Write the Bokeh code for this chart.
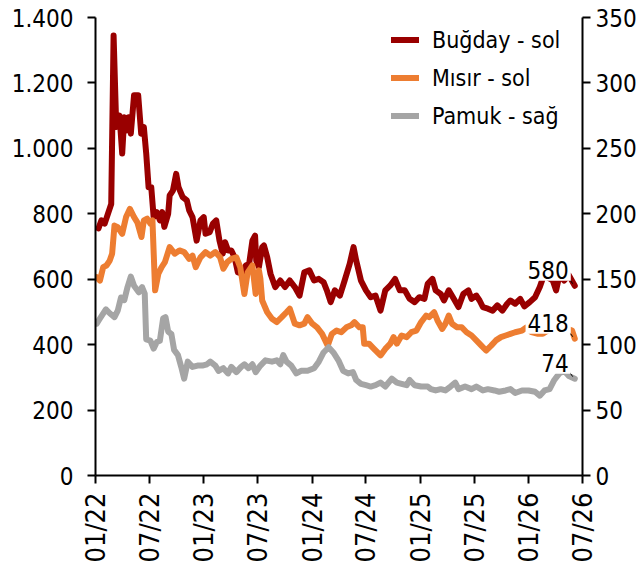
import pandas as pd
from bokeh.plotting import figure
from bokeh.models import (Range1d, LinearAxis, FixedTicker, Label, Legend, LegendItem)
from bokeh.embed import file_html
from bokeh.resources import INLINE

# ---------------- data ----------------
B_DATES = ["2022-01-11","2022-01-21","2022-02-01","2022-02-12","2022-02-23","2022-03-03","2022-03-12","2022-03-23",
           "2022-04-01","2022-04-08","2022-04-16","2022-04-22","2022-04-30","2022-05-11","2022-05-25","2022-06-04",
           "2022-06-13","2022-06-21","2022-06-29","2022-07-08","2022-07-16","2022-07-27","2022-08-06","2022-08-14",
           "2022-08-21","2022-09-03","2022-09-08","2022-09-19","2022-09-30","2022-10-08","2022-10-22","2022-11-05",
           "2022-11-13","2022-11-24","2022-12-08","2022-12-21","2023-01-01","2023-01-07","2023-01-21","2023-02-01",
           "2023-02-12","2023-02-23","2023-03-06","2023-03-14","2023-03-24","2023-04-04","2023-04-15","2023-04-26",
           "2023-05-12","2023-05-23","2023-06-03","2023-06-14","2023-06-23","2023-06-27","2023-07-06","2023-07-17",
           "2023-07-23","2023-08-03","2023-08-14","2023-08-30","2023-09-16","2023-10-02","2023-10-18","2023-11-04",
           "2023-11-20","2023-12-06","2023-12-23","2024-01-08","2024-01-24","2024-02-09","2024-02-20","2024-03-04",
           "2024-03-18","2024-04-04","2024-04-20","2024-05-07","2024-05-20","2024-05-29","2024-06-14","2024-07-01",
           "2024-07-17","2024-08-02","2024-08-19","2024-09-04","2024-09-21","2024-10-07","2024-10-23","2024-11-09",
           "2024-11-25","2024-12-12","2024-12-28","2025-01-14","2025-01-25","2025-02-10","2025-02-21","2025-03-10",
           "2025-03-21","2025-04-06","2025-04-23","2025-05-09","2025-05-25","2025-06-11","2025-06-22","2025-07-08",
           "2025-07-19","2025-07-30","2025-08-16","2025-09-01","2025-09-17","2025-10-04","2025-10-20","2025-10-31",
           "2025-11-16","2025-12-03","2025-12-17","2026-01-04","2026-01-22","2026-02-07","2026-02-22","2026-03-07",
           "2026-03-23","2026-04-03","2026-04-14","2026-04-30","2026-05-16","2026-06-05"]
B_VALUES = [755,780,770,800,830,1345,1065,1100,
            984,1095,1055,1095,1045,1162,1162,1045,
            1065,984,881,881,790,805,780,805,
            760,800,856,871,922,881,851,841,
            810,790,718,780,790,739,744,770,
            780,718,678,713,688,688,667,621,
            617,642,647,718,733,657,637,698,
            703,667,617,576,596,576,596,576,
            550,621,627,596,601,591,566,530,
            566,550,596,647,698,657,596,566,
            545,550,504,566,581,601,566,566,
            540,530,545,540,586,601,566,555,
            535,566,540,515,555,566,540,550,
            535,515,510,504,520,504,525,535,
            525,540,517,530,545,576,615,605,
            596,566,612,596,612,580]

M_DATES = ["2022-01-05","2022-01-16","2022-01-27","2022-02-07","2022-02-18","2022-02-26","2022-03-06","2022-03-17",
           "2022-04-01","2022-04-14","2022-04-27","2022-05-11","2022-05-22","2022-06-05","2022-06-13","2022-06-24",
           "2022-07-05","2022-07-12","2022-07-21","2022-08-01","2022-08-12","2022-08-23","2022-09-08","2022-09-25",
           "2022-10-11","2022-10-27","2022-11-13","2022-11-24","2022-12-05","2022-12-21","2023-01-07","2023-01-23",
           "2023-02-09","2023-02-25","2023-03-08","2023-03-21","2023-04-04","2023-04-21","2023-05-04","2023-05-18",
           "2023-05-29","2023-06-14","2023-06-25","2023-07-06","2023-07-11","2023-07-17","2023-08-03","2023-08-19",
           "2023-09-04","2023-09-21","2023-10-07","2023-10-18","2023-11-04","2023-11-20","2023-12-06","2023-12-17",
           "2024-01-02","2024-01-18","2024-02-04","2024-02-23","2024-03-08","2024-03-24","2024-04-09","2024-04-26",
           "2024-05-12","2024-05-23","2024-06-09","2024-06-20","2024-06-25","2024-07-11","2024-07-28","2024-08-19",
           "2024-09-04","2024-09-21","2024-10-02","2024-10-13","2024-10-29","2024-11-15","2024-12-01","2024-12-18",
           "2025-01-03","2025-01-20","2025-01-30","2025-02-16","2025-02-27","2025-03-15","2025-03-26","2025-04-06",
           "2025-04-17","2025-05-04","2025-05-20","2025-06-05","2025-06-22","2025-07-08","2025-07-25","2025-08-10",
           "2025-08-27","2025-09-12","2025-09-29","2025-10-15","2025-10-31","2025-11-16","2025-12-09","2025-12-25",
           "2026-01-10","2026-02-01","2026-02-17","2026-03-06","2026-03-23","2026-04-08","2026-04-24","2026-05-11",
           "2026-05-27","2026-06-05"]
M_VALUES = [606,596,637,642,657,678,764,759,
            739,790,815,790,774,729,780,785,
            770,780,566,617,637,652,698,678,
            688,683,662,672,637,667,683,672,
            683,667,632,652,662,667,637,555,
            621,642,555,627,601,535,499,479,
            469,484,499,510,464,459,464,484,
            464,453,433,397,433,443,438,453,
            459,469,453,453,403,403,387,367,
            387,403,423,403,428,423,438,443,
            469,489,484,499,474,448,464,489,
            464,453,453,438,428,413,397,382,
            397,413,423,428,433,438,443,453,
            438,433,433,443,459,448,448,448,
            443,418]

P_DATES = ["2022-01-05","2022-01-16","2022-02-05","2022-02-18","2022-03-06","2022-03-17","2022-03-28","2022-04-08",
           "2022-04-19","2022-04-30","2022-05-11","2022-05-27","2022-06-07","2022-06-16","2022-06-21","2022-07-05",
           "2022-07-16","2022-07-27","2022-08-06","2022-08-17","2022-08-25","2022-09-03","2022-09-14","2022-09-23",
           "2022-10-06","2022-10-17","2022-10-27","2022-11-08","2022-11-24","2022-12-11","2022-12-27","2023-01-12",
           "2023-01-23","2023-02-09","2023-02-20","2023-03-08","2023-03-24","2023-04-04","2023-04-21","2023-05-07",
           "2023-05-18","2023-06-01","2023-06-14","2023-06-25","2023-07-11","2023-07-28","2023-08-19","2023-09-04",
           "2023-09-16","2023-09-26","2023-10-07","2023-10-23","2023-11-09","2023-11-25","2023-12-17","2024-01-08",
           "2024-01-24","2024-02-09","2024-02-26","2024-03-13","2024-03-30","2024-04-15","2024-05-02","2024-05-18",
           "2024-05-29","2024-06-14","2024-07-01","2024-07-17","2024-08-02","2024-08-19","2024-09-04","2024-09-26",
           "2024-10-13","2024-10-29","2024-11-15","2024-11-25","2024-12-12","2025-01-03","2025-01-25","2025-02-05",
           "2025-02-21","2025-03-10","2025-03-26","2025-04-12","2025-04-28","2025-05-09","2025-05-31","2025-06-22",
           "2025-07-08","2025-07-30","2025-08-16","2025-09-07","2025-09-23","2025-10-15","2025-10-31","2025-11-16",
           "2025-12-09","2025-12-31","2026-01-22","2026-02-07","2026-02-23","2026-03-12","2026-03-28","2026-04-14",
           "2026-04-30","2026-05-16","2026-06-05"]
P_VALUES = [116,120,127,124,121,126,136,134,
            144,152,145,140,144,139,104,103,
            97,102,103,120,121,110,108,96,
            92,83,74,87,83,84,84,85,
            87,84,80,82,78,83,79,83,
            85,82,85,79,84,88,87,88,
            85,92,87,84,78,80,80,82,
            87,94,98,94,88,80,78,79,
            73,70,69,68,69,71,68,74,
            71,70,69,73,69,68,68,66,
            65,66,65,68,71,66,68,66,
            68,65,66,65,64,65,66,63,
            65,65,64,61,65,66,73,78,
            80,76,74]

SERIES_NAMES = ["Buğday - sol", "Mısır - sol", "Pamuk - sağ"]
X_TICK_DATES = ["2022-01-01","2022-07-01","2023-01-01","2023-07-01","2024-01-01",
                "2024-07-01","2025-01-01","2025-07-01","2026-01-01","2026-07-01"]
X_TICK_LABELS = ["01/22","07/22","01/23","07/23","01/24","07/24","01/25","07/25","01/26","07/26"]
LEFT_TICKS = [0, 200, 400, 600, 800, 1000, 1200, 1400]
LEFT_LABELS = ["0", "200", "400", "600", "800", "1.000", "1.200", "1.400"]
RIGHT_TICKS = [0, 50, 100, 150, 200, 250, 300, 350]
RIGHT_LABELS = ["0", "50", "100", "150", "200", "250", "300", "350"]

# ---------------- style ----------------
FONT = "DejaVu Sans Condensed"
RED = "#990000"
ORANGE = "#ED7D31"
GRAY = "#A5A5A5"


def ms(d):
    return float(pd.Timestamp(d).value // 10**6)


x_ticks = [ms(d) for d in X_TICK_DATES]

p = figure(x_axis_type="datetime", width=639, height=570,
           x_range=Range1d(ms(X_TICK_DATES[0]), ms(X_TICK_DATES[-1])),
           y_range=Range1d(LEFT_TICKS[0], LEFT_TICKS[-1]),
           output_backend="svg", toolbar_location=None,
           min_border_left=95, min_border_top=17, min_border_right=0, min_border_bottom=95)
p.extra_y_ranges = {"right": Range1d(RIGHT_TICKS[0], RIGHT_TICKS[-1])}
p.outline_line_color = None
p.xgrid.visible = False
p.ygrid.visible = False
p.background_fill_color = "white"
p.border_fill_color = "white"

right_axis = LinearAxis(y_range_name="right")
p.add_layout(right_axis, "right")


def style_axis(ax, size):
    ax.axis_line_width = 2
    ax.axis_line_color = "black"
    ax.major_tick_line_width = 2
    ax.major_tick_line_color = "black"
    ax.major_tick_out = 8
    ax.major_tick_in = 0
    ax.minor_tick_line_color = None
    ax.major_label_text_font = FONT
    ax.major_label_text_font_size = size
    ax.major_label_text_color = "black"


xa = p.xaxis[0]
style_axis(xa, "27px")
xa.ticker = FixedTicker(ticks=x_ticks)
xa.major_label_overrides = dict(zip(x_ticks, X_TICK_LABELS))
xa.major_label_orientation = 3.14159265 / 2
xa.major_label_standoff = 9

ya = p.yaxis[0]
style_axis(ya, "24px")
ya.ticker = FixedTicker(ticks=LEFT_TICKS)
ya.major_label_overrides = dict(zip([float(t) for t in LEFT_TICKS], LEFT_LABELS))
ya.major_label_standoff = 14

style_axis(right_axis, "24px")
right_axis.ticker = FixedTicker(ticks=RIGHT_TICKS)
right_axis.major_label_overrides = dict(zip([float(t) for t in RIGHT_TICKS], RIGHT_LABELS))
right_axis.major_label_standoff = 5

series = [
    (B_DATES, B_VALUES, RED, "default"),
    (M_DATES, M_VALUES, ORANGE, "default"),
    (P_DATES, P_VALUES, GRAY, "right"),
]
renderers = []
for dates, vals, col, rng in series:
    r = p.line(x=pd.to_datetime(dates), y=vals, line_color=col, line_width=6,
               line_join="round", line_cap="round", y_range_name=rng)
    renderers.append(r)

# legend
legend = Legend(items=[LegendItem(label=n, renderers=[r]) for n, r in zip(SERIES_NAMES, renderers)],
                location=(296, 346), orientation="vertical",
                glyph_width=28, glyph_height=27, label_height=27, label_standoff=13,
                spacing=11, padding=0, margin=0,
                border_line_color=None, background_fill_alpha=0,
                label_text_font=FONT, label_text_font_size="23px", label_text_color="black")
p.add_layout(legend)

# end-of-series leaders and labels
px_day = 1642 / 481.0           # days per screen pixel
px_left = 1400 / 458.0          # left units per screen pixel
px_right = 350 / 458.0          # right units per screen pixel
for dates, vals, col, rng in series:
    end_x = pd.Timestamp(dates[-1])
    end_y = vals[-1]
    upp = px_right if rng == "right" else px_left
    p.segment(x0=[end_x - pd.Timedelta(days=9 * px_day)], y0=[end_y + 12 * upp],
              x1=[end_x - pd.Timedelta(days=2 * px_day)], y1=[end_y + 2 * upp],
              line_color="black", line_width=1, y_range_name=rng)
    lab = Label(x=ms(dates[-1]), y=end_y, x_offset=-4, y_offset=16, text=str(end_y),
                text_align="right", text_baseline="alphabetic",
                text_font=FONT, text_font_size="24px", text_color="black",
                background_fill_color="white", padding=2, y_range_name=rng)
    p.add_layout(lab)

open("out.html", "w").write(file_html(p, INLINE))
